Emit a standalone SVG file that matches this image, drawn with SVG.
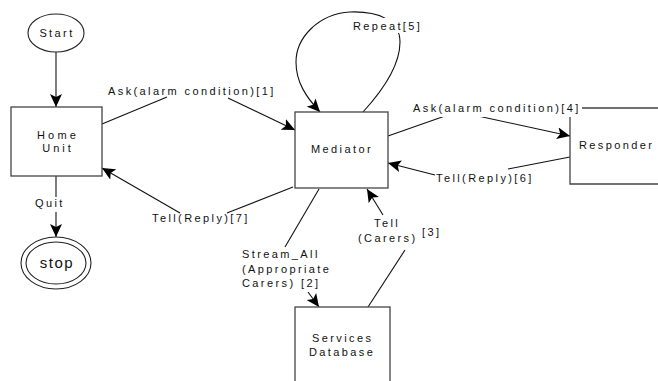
<svg xmlns="http://www.w3.org/2000/svg" width="658" height="381" viewBox="0 0 658 381">
<style>
text{font-family:"Liberation Sans",Arial,sans-serif;font-size:11px;letter-spacing:2.4px;fill:#111}
.c{text-anchor:middle}
.box{fill:#fff;stroke:#444;stroke-width:1.3}
.ell{fill:#fff;stroke:#222;stroke-width:1.1}
.ln{fill:none;stroke:#111;stroke-width:1.1}
.ar{fill:none;stroke:#111;stroke-width:1.1;marker-end:url(#ah)}
</style>
<defs>
<marker id="ah" markerUnits="userSpaceOnUse" markerWidth="14" markerHeight="12" viewBox="0 0 14 12" refX="13" refY="6" orient="auto">
<path d="M0,0 L13,6 L0,12 L3,6 z" fill="#000"/>
</marker>
</defs>
<g id="connectors">
<path class="ar" d="M56,52 L56,107"/>
<path class="ln" d="M56,176 L56,197"/>
<path class="ar" d="M56,212 L56,237"/>
<path class="ln" d="M102,124 L167,97"/>
<path class="ar" d="M228,98 L295,130"/>
<path class="ar" d="M363,112 C385,88 400,65 400,42 C400,20 378,11 350,12 C318,14 296,38 296,62 C296,82 306,97 320,112"/>
<path class="ln" d="M293,187 L227,213"/>
<path class="ar" d="M180,213 L102,168"/>
<path class="ln" d="M388,136 L445,116"/>
<path class="ar" d="M478,116 L570,136"/>
<path class="ln" d="M570,157 L508,169"/>
<path class="ar" d="M435,175 L388,163"/>
<path class="ln" d="M319,189 L285,247"/>
<path class="ar" d="M308,292 L319,307"/>
<path class="ln" d="M368,307 L405,250"/>
<path class="ar" d="M383,215 L367,189"/>
</g>
<g id="start">
<ellipse class="ell" cx="56" cy="33" rx="28" ry="19"/>
<text class="c" x="57" y="37">Start</text>
</g>
<g id="home">
<rect class="box" x="11" y="107" width="91" height="69"/>
<text class="c" x="58" y="139" style="letter-spacing:3.2px">Home</text>
<text class="c" x="58" y="152" style="letter-spacing:3px">Unit</text>
</g>
<g id="stop">
<ellipse class="ell" cx="56" cy="263" rx="35" ry="26"/>
<ellipse class="ell" cx="56" cy="263" rx="30" ry="21"/>
<text class="c" x="57" y="268" style="font-size:15px;letter-spacing:1.5px">stop</text>
</g>
<g id="mediator">
<rect class="box" x="295" y="112" width="93" height="76"/>
<text x="311" y="153">Mediator</text>
</g>
<g id="responder">
<path class="box" d="M570,108 L659,108 L659,184 L570,184 Z"/>
<text x="579" y="149">Responder</text>
</g>
<g id="services">
<rect class="box" x="295" y="307" width="95" height="90"/>
<text x="312" y="342">Services</text>
<text x="309" y="356">Database</text>
</g>
<g id="labels">
<text x="108" y="95">Ask(alarm condition)[1]</text>
<rect x="350" y="18" width="76" height="15" fill="#fff"/>
<text x="353" y="30">Repeat[5]</text>
<text x="35" y="207">Quit</text>
<text x="152" y="222">Tell(Reply)[7]</text>
<rect x="410" y="100" width="172" height="17" fill="#fff"/>
<text x="413" y="112">Ask(alarm condition)[4]</text>
<text x="436" y="182">Tell(Reply)[6]</text>
<text x="242" y="258">Stream_All</text>
<text x="242" y="273">(Appropriate</text>
<text x="242" y="287">Carers) [2]</text>
<text x="374" y="227">Tell</text>
<text x="358" y="242">(Carers)</text>
<text x="422" y="236">[3]</text>
</g>
</svg>
